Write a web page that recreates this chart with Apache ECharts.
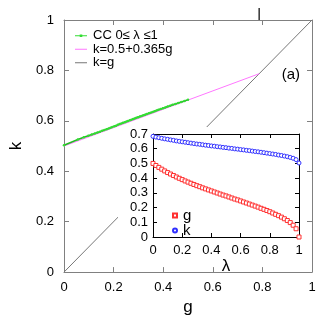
<!DOCTYPE html>
<html>
<head>
<meta charset="utf-8">
<script src="https://cdn.jsdelivr.net/npm/echarts@6/dist/echarts.min.js"></script>
<style>
  html, body { margin: 0; padding: 0; background: #fff; }
  #main { width: 327px; height: 321px; }
</style>
</head>
<body>
<div id="main"></div>
<script>
// lambda grid of the inset
const lambdas = [0, 0.02, 0.04, 0.06, 0.08, 0.1, 0.12, 0.14, 0.16, 0.18,
  0.2, 0.22, 0.24, 0.26, 0.28, 0.3, 0.32, 0.34, 0.36, 0.38,
  0.4, 0.42, 0.44, 0.46, 0.48, 0.5, 0.52, 0.54, 0.56, 0.58,
  0.6, 0.62, 0.64, 0.66, 0.68, 0.7, 0.72, 0.74, 0.76, 0.78,
  0.8, 0.82, 0.84, 0.86, 0.88, 0.9, 0.92, 0.94, 0.96, 0.98, 1]
// g(lambda)
const gVals = [0.500, 0.486, 0.473, 0.461, 0.449, 0.438, 0.428, 0.418, 0.408, 0.399,
  0.390, 0.381, 0.373, 0.365, 0.357, 0.349, 0.342, 0.334, 0.327, 0.320,
  0.313, 0.306, 0.299, 0.292, 0.285, 0.279, 0.272, 0.265, 0.258, 0.252,
  0.245, 0.238, 0.231, 0.224, 0.217, 0.210, 0.203, 0.195, 0.188, 0.180,
  0.172, 0.163, 0.154, 0.145, 0.135, 0.124, 0.112, 0.098, 0.080, 0.056, 0.000]
// k(lambda)
const kVals = [0.684, 0.679, 0.675, 0.671, 0.667, 0.664, 0.660, 0.657, 0.653, 0.650,
  0.647, 0.644, 0.641, 0.638, 0.635, 0.632, 0.630, 0.627, 0.624, 0.622,
  0.619, 0.617, 0.614, 0.612, 0.609, 0.607, 0.604, 0.602, 0.599, 0.597,
  0.594, 0.592, 0.589, 0.587, 0.584, 0.581, 0.579, 0.576, 0.573, 0.570,
  0.567, 0.564, 0.561, 0.557, 0.554, 0.550, 0.546, 0.541, 0.535, 0.526, 0.503]
// straight lines of the main panel
const fitLine = [[0, 0.5], [0.787, 0.787]]   // k = 0.5 + 0.365 g
const diagLine = [[0, 0], [1, 1]]            // k = g
const crossG = 0.787                         // where the two lines meet (arrow)

const FONT = 'Liberation Sans'
const mainAxisColor = '#808080'
const insetAxisColor = '#000'

const chart = echarts.init(document.getElementById('main'))

function valAxis(opt) {
  return Object.assign({
    type: 'value',
    axisLine: { show: true, onZero: false, lineStyle: { color: mainAxisColor, width: 1 } },
    axisTick: { show: true, inside: true, length: 5, lineStyle: { color: mainAxisColor } },
    axisLabel: { show: false },
    splitLine: { show: false },
  }, opt)
}

const labelStyle = { color: '#000', fontSize: 13, fontFamily: FONT }
// legend icons: thin line, and thin line with a dot (tiny corner bits keep the 12x4 box)
const box = ' M0,0L0.01,0L0,0.01Z M12,4L11.99,4L12,3.99Z'
const lineIcon = 'path://M0,1.5L12,1.5L12,2.5L0,2.5Z' + box
const dotLineIcon = 'path://M0,1.5L12,1.5L12,2.5L0,2.5Z M4.7,0.7L7.3,0.7L7.3,3.3L4.7,3.3Z' + box

const option = {
  animation: false,
  title: {
    text: '(a)', right: 22, top: 62,
    textStyle: { fontSize: 15, fontWeight: 'normal', color: '#000', fontFamily: FONT },
  },
  legend: [
    {
      data: [
        { name: 'CC 0\u2264 \u03bb \u22641', icon: dotLineIcon },
        { name: 'k=0.5+0.365g', icon: lineIcon },
        { name: 'k=g', icon: lineIcon },
      ],
      orient: 'vertical', left: 70, top: 24, itemGap: 0,
      itemWidth: 12, itemHeight: 4,
      textStyle: { fontSize: 13, lineHeight: 13.5, color: '#000', fontFamily: FONT, padding: [0, 0, 0, 1] },
    },
    {
      data: [{ name: 'g', icon: 'rect' }, { name: 'k', icon: 'circle' }],
      orient: 'vertical', left: 167, top: 203, itemGap: 0,
      itemWidth: 4, itemHeight: 4,
      textStyle: { fontSize: 15, lineHeight: 15, color: '#000', fontFamily: FONT, padding: [0, 0, 0, 1] },
      z: 8,
    },
  ],
  graphic: [
    {
      // white backing behind the inset
      type: 'rect', id: 'insetBg', left: 118, top: 127, z: 3,
      shape: { width: 187, height: 138 },
      style: { fill: '#fff' },
    },
  ],
  grid: [
    { left: 55, right: 15, top: 20, bottom: 48 },
    { left: 153, right: 28, top: 134, bottom: 84 },
  ],
  xAxis: [
    valAxis({
      gridIndex: 0, position: 'bottom', min: 0, max: 1, interval: 0.2,
      axisLabel: Object.assign({ show: true, margin: 9 }, labelStyle),
      name: 'g', nameLocation: 'middle', nameGap: 19,
      nameTextStyle: { fontSize: 17, color: '#000', fontFamily: FONT },
    }),
    valAxis({ gridIndex: 0, position: 'top', min: 0, max: 1, interval: 0.2 }),
    valAxis({
      gridIndex: 1, position: 'bottom', min: 0, max: 1, interval: 0.2, z: 5,
      axisLine: { show: true, onZero: false, lineStyle: { color: insetAxisColor } },
      axisTick: { show: true, inside: true, length: 4, lineStyle: { color: insetAxisColor } },
      axisLabel: Object.assign({ show: true, margin: 7 }, labelStyle),
      name: '\u03bb', nameLocation: 'middle', nameGap: 18,
      nameTextStyle: { fontSize: 17, color: '#000', fontFamily: FONT },
    }),
    valAxis({
      gridIndex: 1, position: 'top', min: 0, max: 1, interval: 0.2, z: 5,
      axisLine: { show: true, onZero: false, lineStyle: { color: insetAxisColor } },
      axisTick: { show: true, inside: true, length: 4, lineStyle: { color: insetAxisColor } },
    }),
  ],
  yAxis: [
    valAxis({
      gridIndex: 0, position: 'left', min: 0, max: 1, interval: 0.2,
      axisLabel: Object.assign({ show: true, margin: 10 }, labelStyle),
      name: 'k', nameLocation: 'middle', nameGap: 39, nameRotate: 90,
      nameTextStyle: { fontSize: 17, color: '#000', fontFamily: FONT },
    }),
    valAxis({ gridIndex: 0, position: 'right', min: 0, max: 1, interval: 0.2 }),
    valAxis({
      gridIndex: 1, position: 'left', min: 0, max: 0.7, interval: 0.1, z: 5,
      axisLine: { show: true, onZero: false, lineStyle: { color: insetAxisColor } },
      axisTick: { show: true, inside: true, length: 4, lineStyle: { color: insetAxisColor } },
      axisLabel: Object.assign({ show: true, margin: 5 }, labelStyle),
    }),
    valAxis({
      gridIndex: 1, position: 'right', min: 0, max: 0.7, interval: 0.1, z: 5,
      axisLine: { show: true, onZero: false, lineStyle: { color: insetAxisColor } },
      axisTick: { show: true, inside: true, length: 4, lineStyle: { color: insetAxisColor } },
    }),
  ],
  series: [
    {
      name: 'k=g', type: 'line', xAxisIndex: 0, yAxisIndex: 0,
      data: diagLine, showSymbol: false, symbol: 'none', z: 1,
      lineStyle: { color: '#777', width: 1 }, itemStyle: { color: '#777' },
    },
    {
      name: 'k=0.5+0.365g', type: 'line', xAxisIndex: 0, yAxisIndex: 0,
      data: fitLine, showSymbol: false, symbol: 'none', z: 2,
      lineStyle: { color: '#ff77ff', width: 1 }, itemStyle: { color: '#ff77ff' },
    },
    {
      name: 'CC 0\u2264 \u03bb \u22641', type: 'line', xAxisIndex: 0, yAxisIndex: 0,
      data: gVals.map((g, i) => [g, kVals[i]]),
      symbol: 'circle', symbolSize: 2.5, z: 2,
      lineStyle: { color: '#22bb22', width: 1.5 }, itemStyle: { color: '#33dd33' },
    },
    {
      name: 'g', type: 'line', xAxisIndex: 2, yAxisIndex: 2,
      data: lambdas.map((l, i) => [l, gVals[i]]),
      symbol: 'rect', symbolSize: 4, z: 6,
      lineStyle: { width: 0, opacity: 0 },
      itemStyle: { color: '#fff', borderColor: '#ff3030', borderWidth: 1 },
    },
    {
      name: 'k', type: 'line', xAxisIndex: 2, yAxisIndex: 2,
      data: lambdas.map((l, i) => [l, kVals[i]]),
      symbol: 'circle', symbolSize: 4, z: 6,
      lineStyle: { width: 0, opacity: 0 },
      itemStyle: { color: '#fff', borderColor: '#3030ff', borderWidth: 1 },
    },
  ],
}

chart.setOption(option)

// small arrow above the top axis at the crossing point
const p = chart.convertToPixel({ xAxisIndex: 0, yAxisIndex: 0 }, [crossG, 1])
chart.setOption({
  graphic: [
    { id: 'insetBg' },
    {
      type: 'line', id: 'arrow', z: 5,
      shape: { x1: p[0], y1: p[1] - 12, x2: p[0], y2: p[1] },
      style: { stroke: '#333', lineWidth: 1.5 },
    },
  ],
})
</script>
</body>
</html>
